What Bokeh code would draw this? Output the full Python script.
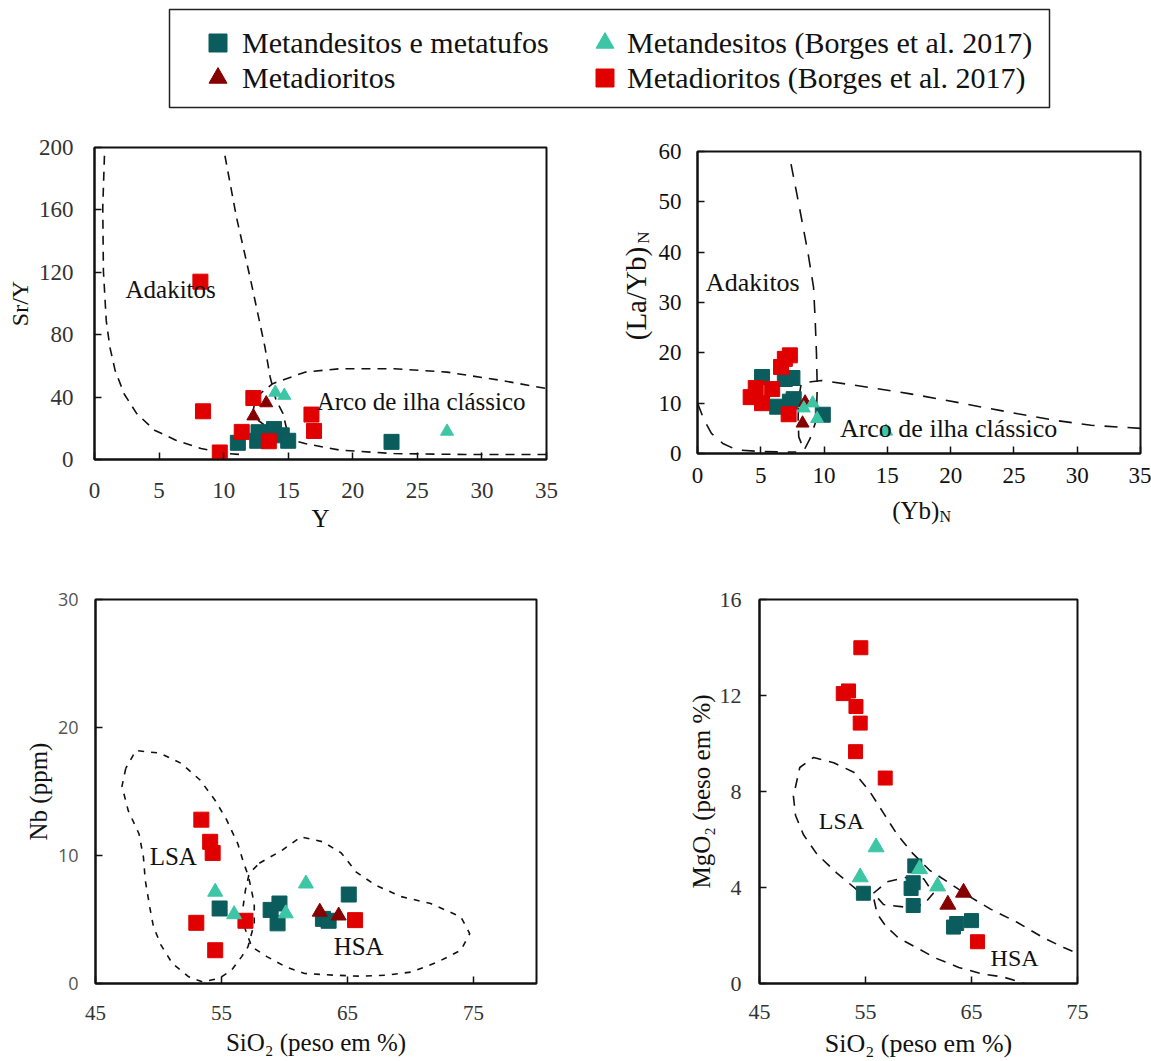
from bokeh.plotting import figure
from bokeh.layouts import column, row
from bokeh.models import Range1d, FixedTicker, Legend, LegendItem
from bokeh.core.properties import value
from bokeh.embed import file_html
from bokeh.resources import INLINE
import math

# ---------------- series names / colours ----------------
SERIES = ["Metandesitos e metatufos", "Metandesitos (Borges et al. 2017)",
          "Metadioritos", "Metadioritos (Borges et al. 2017)"]
C_MET = "#0b5c5c"
C_MET_B = "#3cc6a6"
C_DIO = "#870000"
C_DIO_B = "#e00000"

# ---------------- Panel 1: Sr/Y vs Y ----------------
p1_met_x = [11.1, 12.6, 12.7, 13.9, 14.5, 15.0, 23.0]
p1_met_y = [10.7, 12.0, 17.5, 19.5, 15.5, 12.0, 11.3]
p1_metb_x = [14.0, 14.7, 27.3]
p1_metb_y = [43.0, 41.0, 18.0]
p1_dio_x = [12.3, 13.3]
p1_dio_y = [27.8, 36.2]
p1_diob_x = [8.2, 8.4, 12.3, 11.4, 9.7, 13.5, 16.8, 17.0]
p1_diob_y = [114.0, 30.9, 39.4, 17.7, 4.5, 11.7, 28.8, 18.3]
p1_adk_left_x = [0.77, 0.64, 0.69, 0.91, 1.19, 1.6, 2.3, 3.27, 4.65, 6.3, 8.25, 10.2, 11.2]
p1_adk_left_y = [194.7, 161.6, 121, 89, 72, 57, 42, 29.4, 18.8, 12.4, 7.0, 3.8, 3.3]
p1_adk_right_x = [10.1, 11.0, 12.1, 13.2, 13.6, 14.06, 14.6, 14.9, 14.75, 14.3]
p1_adk_right_y = [194.7, 155, 114.7, 72, 52.9, 38, 29.4, 18.8, 11.3, 7.0]
p1_arc_x = [35, 28.7, 23.2, 19.0, 16.3, 14.9, 13.5, 12.7, 12.3, 12.5, 13.8, 16.3, 19.0, 23.2, 27.3, 31.5, 35]
p1_arc_y = [3.2, 3.2, 3.8, 6.0, 10.2, 13.4, 19.8, 25, 32, 40, 48.6, 56, 58.2, 58.2, 56, 50.7, 45.5]
p1_lbl = ["Adakitos", "Arco de ilha clássico"]
p1_lbl_x = [2.4, 17.2]
p1_lbl_y = [109, 36.9]

# ---------------- Panel 2: (La/Yb)N vs (Yb)N ----------------
p2_met_x = [5.1, 6.9, 7.5, 6.3, 7.3, 7.6, 9.9]
p2_met_y = [15.2, 14.8, 15.0, 9.3, 10.3, 10.8, 7.7]
p2_metb_x = [8.4, 9.1, 9.45, 14.9]
p2_metb_y = [9.0, 10.0, 6.9, 4.4]
p2_dio_x = [8.3, 8.5]
p2_dio_y = [6.0, 10.2]
p2_diob_x = [7.3, 6.9, 6.6, 4.6, 4.2, 5.1, 5.9, 7.2]
p2_diob_y = [19.5, 18.8, 17.2, 13.0, 11.2, 10.0, 12.8, 7.8]
p2_adk_low_x = [0.0, 0.5, 1.1, 2.0, 3.1, 5.0, 6.6, 7.8]
p2_adk_low_y = [10.0, 6.8, 4.0, 2.0, 0.7, 0.4, 0.3, 0.3]
p2_adk_right_x = [7.39, 8.0, 8.74, 9.17, 9.3, 9.4, 9.46, 9.4, 9.3, 8.9, 8.45]
p2_adk_right_y = [57.5, 49.6, 39.7, 33.0, 26.4, 19.8, 13.2, 7.9, 6.0, 3.0, 0.8]
p2_arc_x = [35, 31.1, 28.2, 25.3, 22.4, 19.6, 16.7, 12.3, 9.8, 8.2, 8.0, 7.95, 8.0, 8.4]
p2_arc_y = [5.0, 5.6, 6.6, 7.9, 9.25, 10.6, 11.9, 13.6, 14.5, 14.0, 11.0, 7.0, 3.3, 0.8]
p2_lbl = ["Adakitos", "Arco de ilha clássico"]
p2_lbl_x = [0.66, 11.25]
p2_lbl_y = [34.0, 5.0]
p2_xtitle = ["(Yb)", "N"]
p2_ytitle = ["(La/Yb)", "N"]

# ---------------- Panel 3: Nb vs SiO2 ----------------
p3_met_x = [54.85, 58.9, 59.6, 59.45, 63.05, 63.5, 65.1]
p3_met_y = [5.86, 5.75, 6.25, 4.7, 5.05, 4.9, 6.95]
p3_metb_x = [54.5, 56.0, 60.1, 61.7]
p3_metb_y = [7.16, 5.4, 5.47, 7.8]
p3_dio_x = [62.8, 64.3]
p3_dio_y = [5.6, 5.3]
p3_diob_x = [53.4, 54.1, 54.3, 53.0, 54.5, 56.9, 65.6]
p3_diob_y = [12.8, 11.07, 10.2, 4.74, 2.6, 4.9, 4.95]
p3_lsa_x = [47.4, 47.1, 47.6, 48.45, 48.8, 48.95, 49.3, 49.6, 50.2, 51.1, 52.4, 53.5, 54.8, 55.8, 56.6,
            57.1, 57.6, 57.6, 57.15, 56.7, 56.3, 55.4, 54.5, 53.3, 51.8, 50.1, 48.2, 47.4]
p3_lsa_y = [16.8, 15.4, 13.5, 11.7, 9.9, 8.07, 6.0, 4.43, 3.0, 1.56, 0.52, 0.13, 0.39, 1.04, 2.1,
            2.86, 4.69, 6.25, 8.33, 9.6, 10.9, 12.8, 14.3, 15.9, 17.2, 18.0, 18.2, 16.8]
p3_hsa_x = [58.0, 59.8, 61.3, 63.05, 64.5, 65.7, 67.2, 69.2, 71.6, 74.0, 74.7, 74.0, 72.2, 70.1, 68.1,
            66.0, 63.9, 61.6, 60.1, 58.6, 57.4, 56.9, 56.6, 56.9, 57.2, 58.0]
p3_hsa_y = [9.4, 10.4, 11.46, 11.07, 10.2, 8.7, 7.7, 6.8, 6.25, 5.2, 3.9, 2.6, 1.7, 0.9, 0.65,
            0.57, 0.65, 0.78, 1.3, 2.1, 2.86, 4.2, 5.2, 7.3, 8.6, 9.4]
p3_lbl = ["LSA", "HSA"]
p3_lbl_x = [49.3, 63.9]
p3_lbl_y = [9.95, 2.86]

# ---------------- Panel 4: MgO2 vs SiO2 ----------------
p4_met_x = [54.8, 59.65, 59.3, 59.5, 59.5, 63.3, 63.6, 65.0]
p4_met_y = [3.76, 4.9, 3.96, 4.2, 3.25, 2.35, 2.5, 2.62]
p4_metb_x = [54.5, 56.0, 60.1, 61.8]
p4_metb_y = [4.43, 5.68, 4.77, 4.05]
p4_dio_x = [62.77, 64.25]
p4_dio_y = [3.29, 3.79]
p4_diob_x = [54.56, 52.9, 53.4, 54.1, 54.5, 54.06, 56.86, 65.57]
p4_diob_y = [13.99, 12.08, 12.19, 11.54, 10.85, 9.66, 8.56, 1.74]
p4_lsa_x = [54.2, 52.3, 50.4, 49.15, 48.4, 48.2, 48.8, 50.1, 52.0, 53.9, 55.4, 56.7, 58.0, 59.5, 61.1,
            63.0, 64.9, 66.8, 69.3, 71.8, 73.7, 75.0]
p4_lsa_y = [3.9, 4.6, 5.4, 6.2, 7.0, 7.8, 9.0, 9.42, 9.2, 8.8, 8.0, 7.1, 6.2, 5.4, 4.7,
            4.16, 3.6, 3.1, 2.55, 1.9, 1.5, 1.25]
p4_loop_x = [55.75, 57.0, 58.9, 60.5, 61.4, 60.5, 58.6, 56.7, 55.75]
p4_loop_y = [3.76, 4.23, 4.43, 4.36, 3.76, 3.29, 3.19, 3.29, 3.76]
p4_hsa_x = [55.8, 56.1, 56.9, 58.1, 59.8, 61.6, 63.8, 66.0, 68.0, 70.0]
p4_hsa_y = [3.5, 2.9, 2.4, 1.9, 1.5, 1.06, 0.67, 0.4, 0.27, 0.0]
p4_lbl = ["LSA", "HSA"]
p4_lbl_x = [50.6, 66.8]
p4_lbl_y = [6.78, 1.05]

SERIF = "Liberation Serif"


def make_panel(width, height, xr, yr, borders, xticks, yticks, tick_size, tick_color):
    left, right, top, bottom = borders
    p = figure(width=width, height=height, x_range=Range1d(*xr), y_range=Range1d(*yr),
               output_backend="svg", toolbar_location=None,
               min_border_left=left, min_border_right=right,
               min_border_top=top, min_border_bottom=bottom)
    p.xgrid.visible = False
    p.ygrid.visible = False
    p.xaxis.ticker = FixedTicker(ticks=xticks)
    p.yaxis.ticker = FixedTicker(ticks=yticks)
    for ax in (p.xaxis[0], p.yaxis[0]):
        ax.major_tick_in = 7
        ax.major_tick_out = 0
        ax.minor_tick_in = 0
        ax.minor_tick_out = 0
        ax.major_tick_line_width = 1.5
        ax.major_tick_line_color = "#111111"
        ax.axis_line_width = 2
        ax.axis_line_color = "#111111"
        ax.major_label_text_font = SERIF
        ax.major_label_text_font_size = tick_size
        ax.major_label_text_color = tick_color
        ax.axis_label_text_font = SERIF
        ax.axis_label_text_font_style = "normal"
        ax.axis_label_text_color = "#111111"
    p.outline_line_color = "#111111"
    p.outline_line_width = 2
    p.outline_line_alpha = 1.0
    return p


def text_strip(width, height):
    # plain canvas in pixel units, used for axis titles with subscripts
    f = figure(width=width, height=height, x_range=Range1d(0, width), y_range=Range1d(0, height),
               output_backend="svg", toolbar_location=None, x_axis_type=None, y_axis_type=None,
               min_border=0)
    f.outline_line_color = None
    return f


def add_points(p, mx, my, bx, by, dx, dy, rx, ry, sq=15, tri=14):
    p.scatter(mx, my, marker="square", size=sq, fill_color=C_MET, line_color=C_MET)
    p.scatter(rx, ry, marker="square", size=sq, fill_color=C_DIO_B, line_color=C_DIO_B)
    p.scatter(dx, dy, marker="triangle", size=tri, fill_color=C_DIO, line_color=C_DIO)
    p.scatter(bx, by, marker="triangle", size=tri, fill_color=C_MET_B, line_color=C_MET_B)


def add_labels(p, xs, ys, texts, size):
    p.text(xs, ys, text=texts, text_font=value(SERIF), text_font_size=size,
           text_baseline="middle", text_align="left", text_color="#111111")


# ---------- legend figure (its frame outline is the legend box) ----------
p0 = figure(width=1151, height=120, x_range=Range1d(0, 1), y_range=Range1d(0, 1),
            output_backend="svg", toolbar_location=None, x_axis_type=None, y_axis_type=None,
            min_border_left=169, min_border_right=102, min_border_top=9, min_border_bottom=13)
p0.outline_line_color = "#222222"
p0.outline_line_width = 1.5
# legend swatches reuse panel-1 data, which lies outside this box's 0..1 range
r_met = p0.scatter(p1_met_x, p1_met_y, marker="square", fill_color=C_MET, line_color=C_MET)
r_metb = p0.scatter(p1_metb_x, p1_metb_y, marker="triangle", fill_color=C_MET_B, line_color=C_MET_B)
r_dio = p0.scatter(p1_dio_x, p1_dio_y, marker="triangle", fill_color=C_DIO, line_color=C_DIO)
r_diob = p0.scatter(p1_diob_x, p1_diob_y, marker="square", fill_color=C_DIO_B, line_color=C_DIO_B)


def legend_entry(label, rend, loc, standoff):
    lg = Legend(items=[LegendItem(label=label, renderers=[rend], index=0)], location=loc,
                orientation="vertical", glyph_width=45, glyph_height=45, label_standoff=standoff,
                padding=0, margin=0, spacing=0,
                label_text_font=SERIF, label_text_font_size="30px", label_text_color="#111111",
                border_line_color=None, background_fill_alpha=0.0)
    p0.add_layout(lg)


legend_entry(SERIES[0], r_met, (26, 42), 2)
legend_entry(SERIES[1], r_metb, (413, 42), 0)
legend_entry(SERIES[2], r_dio, (26, 7), 2)
legend_entry(SERIES[3], r_diob, (413, 7), 0)

# ---------- panel 1 ----------
p1 = make_panel(580, 440, (0, 35), (0, 200), (94, 34, 27, 101),
                [0, 5, 10, 15, 20, 25, 30, 35], [0, 40, 80, 120, 160, 200], "23px", "#333333")
p1.xaxis.axis_label = "Y"
p1.yaxis.axis_label = "Sr/Y"
p1.xaxis.axis_label_text_font_size = "25px"
p1.yaxis.axis_label_text_font_size = "24px"
p1.yaxis.major_label_standoff = 21
p1.yaxis.axis_label_standoff = 3
p1.xaxis.major_label_standoff = 23
p1.xaxis.axis_label_standoff = 4
for xs, ys in ((p1_adk_left_x, p1_adk_left_y), (p1_adk_right_x, p1_adk_right_y), (p1_arc_x, p1_arc_y)):
    p1.line(xs, ys, line_color="#111111", line_width=1.6, line_dash="9 7")
add_points(p1, p1_met_x, p1_met_y, p1_metb_x, p1_metb_y, p1_dio_x, p1_dio_y, p1_diob_x, p1_diob_y,
           sq=15, tri=13)
add_labels(p1, p1_lbl_x, p1_lbl_y, p1_lbl, "25px")

# ---------- panel 2 (with separate title strips for the subscripted titles) ----------
p2 = make_panel(496, 377, (0, 35), (0, 60), (42, 11, 31, 44),
                [0, 5, 10, 15, 20, 25, 30, 35], [0, 10, 20, 30, 40, 50, 60], "23px", "#111111")
p2.yaxis.major_label_standoff = 16
p2.xaxis.major_label_standoff = 14
for xs, ys in ((p2_adk_low_x, p2_adk_low_y), (p2_adk_right_x, p2_adk_right_y), (p2_arc_x, p2_arc_y)):
    p2.line(xs, ys, line_color="#111111", line_width=1.6, line_dash="13 10")
add_points(p2, p2_met_x, p2_met_y, p2_metb_x, p2_metb_y, p2_dio_x, p2_dio_y, p2_diob_x, p2_diob_y,
           sq=15, tri=13)
add_labels(p2, p2_lbl_x, p2_lbl_y, p2_lbl, "26px")

yl2 = text_strip(75, 440)
yl2.text([55], [234], text=[p2_ytitle[0]], angle=math.pi / 2, text_font=value(SERIF),
         text_font_size="29px", text_align="center", text_baseline="middle", text_color="#111111")
yl2.text([63], [313], text=[p2_ytitle[1]], angle=math.pi / 2, text_font=value(SERIF),
         text_font_size="17px", text_align="center", text_baseline="middle", text_color="#111111")

xl2 = text_strip(496, 63)
xl2.text([218], [50], text=[p2_xtitle[0]], text_font=value(SERIF), text_font_size="25px",
         text_align="left", text_baseline="middle", text_color="#111111")
xl2.text([271], [44], text=[p2_xtitle[1]], text_font=value(SERIF), text_font_size="16px",
         text_align="left", text_baseline="middle", text_color="#111111")

# ---------- panel 3 ----------
p3 = make_panel(580, 501, (45, 80), (0, 30), (95, 44, 39, 78),
                [45, 55, 65, 75], [0, 10, 20, 30], "21px", "#333333")
p3.yaxis.major_label_text_font = "Open Sans"
p3.yaxis.major_label_text_font_size = "18px"
p3.yaxis.major_label_text_color = "#555555"
p3.xaxis.axis_label = "SiO₂ (peso em %)"
p3.yaxis.axis_label = "Nb (ppm)"
p3.xaxis.axis_label_text_font_size = "25px"
p3.yaxis.axis_label_text_font_size = "25px"
p3.yaxis.major_label_standoff = 17
p3.yaxis.axis_label_standoff = 3
p3.xaxis.major_label_standoff = 22
p3.xaxis.axis_label_standoff = 6
for xs, ys in ((p3_lsa_x, p3_lsa_y), (p3_hsa_x, p3_hsa_y)):
    p3.line(xs, ys, line_color="#111111", line_width=1.6, line_dash="6 7")
add_points(p3, p3_met_x, p3_met_y, p3_metb_x, p3_metb_y, p3_dio_x, p3_dio_y, p3_diob_x, p3_diob_y,
           sq=15, tri=15)
add_labels(p3, p3_lbl_x, p3_lbl_y, p3_lbl, "25px")

# ---------- panel 4 ----------
p4 = make_panel(571, 501, (45, 75), (0, 16), (179, 74, 26, 78),
                [45, 55, 65, 75], [0, 4, 8, 12, 16], "22px", "#333333")
p4.xaxis.axis_label = "SiO₂ (peso em %)"
p4.yaxis.axis_label = "MgO₂ (peso em %)"
p4.xaxis.axis_label_text_font_size = "26px"
p4.yaxis.axis_label_text_font_size = "25px"
p4.yaxis.major_label_standoff = 18
p4.yaxis.axis_label_standoff = 2
p4.xaxis.major_label_standoff = 21
p4.xaxis.axis_label_standoff = 7
for xs, ys in ((p4_lsa_x, p4_lsa_y), (p4_loop_x, p4_loop_y), (p4_hsa_x, p4_hsa_y)):
    p4.line(xs, ys, line_color="#111111", line_width=1.6, line_dash="10 8")
add_points(p4, p4_met_x, p4_met_y, p4_metb_x, p4_metb_y, p4_dio_x, p4_dio_y, p4_diob_x, p4_diob_y,
           sq=14, tri=16)
add_labels(p4, p4_lbl_x, p4_lbl_y, p4_lbl, "24px")

layout = column(p0, row(p1, yl2, column(p2, xl2)), row(p3, p4))
html = file_html(layout, INLINE)
html = html.replace("<head>", "<head><style>html,body{margin:0;padding:0;}</style>", 1)
open("out.html", "w").write(html)
